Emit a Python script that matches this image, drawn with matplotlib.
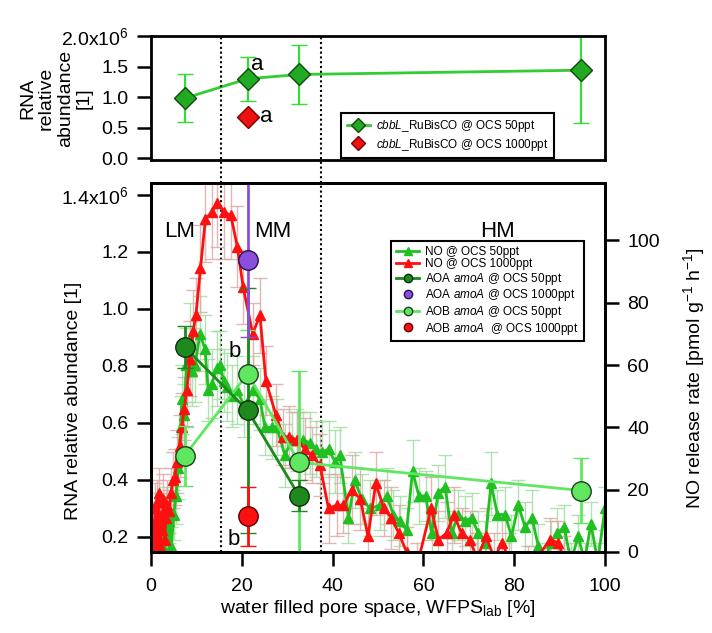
import numpy as np
import matplotlib.pyplot as plt
from matplotlib.lines import Line2D

plt.rcParams['font.family'] = ['Liberation Sans', 'DejaVu Sans']
plt.rcParams['mathtext.fontset'] = 'custom'
plt.rcParams['mathtext.rm'] = 'Liberation Sans'
plt.rcParams['mathtext.it'] = 'Liberation Sans:italic'
plt.rcParams['mathtext.default'] = 'regular'

# ---------------- data (RNA in units of 1e6, NO in pmol g-1 h-1) ----------------
# top panel: cbbL RuBisCO
cbbl_lo_x = [7.4, 21.3, 32.6, 94.7]
cbbl_lo_y = [0.98, 1.30, 1.37, 1.44]
cbbl_lo_err = [0.395, 0.36, 0.48, 0.86]
cbbl_hi_x = [21.3]
cbbl_hi_y = [0.68]

# bottom panel: amoA
aoa_lo_x = [7.4, 21.3, 32.6]
aoa_lo_y = [0.866, 0.643, 0.344]
aoa_lo_err = [0.073, 0.43, 0.055]
aoa_hi_x = [21.3]
aoa_hi_y = [1.172]
aoa_hi_err = [0.27]
aob_lo_x = [7.4, 21.3, 32.6, 94.7]
aob_lo_y = [0.484, 0.772, 0.461, 0.362]
aob_lo_err = [0.105, 0.154, 0.32, 0.113]
aob_hi_x = [21.3]
aob_hi_y = [0.271]
aob_hi_err = [0.105]

# NO release @ OCS 50ppt
no_lo_x = [0.4, 0.8, 1.2, 1.6, 2.0, 2.4, 2.8, 3.2, 3.6, 4.0,
           4.5, 5.0, 5.5, 6.0, 6.5, 6.8, 7.3, 7.8, 8.6, 9.1,
           9.7, 10.8, 11.9, 12.6, 13.4, 14.5, 15.2, 16.0, 16.7, 17.8,
           18.9, 20.5, 22.5, 24.0, 25.1, 26.6, 27.7, 29.5, 31.0, 32.1,
           33.5, 35.0, 36.3, 37.6, 39.1, 40.5, 41.6, 43.5, 44.9, 46.4,
           48.2, 50.4, 51.9, 53.4, 54.8, 56.3, 57.6, 59.0, 60.5, 61.8,
           63.3, 64.8, 66.2, 67.7, 69.2, 70.6, 72.1, 73.6, 74.9, 76.3,
           78.0, 79.4, 80.9, 82.4, 83.9, 85.3, 86.8, 88.0, 89.4, 91.0,
           92.5, 94.1, 95.5, 96.9, 98.4, 100.0]
no_lo_y = [2, 7, 0, 11, 3, 9, 1, 13, 5, 10,
           2, 12, 18, 27, 40, 49, 44, 60, 68, 58,
           60, 70, 65, 52, 54, 59, 60, 55, 53, 50,
           52, 47, 52, 49, 40, 40, 40, 31, 36, 36,
           36, 35, 33, 32, 33, 29, 31, 11, 23, 17,
           14, 15, 18, 12, 10, 7, 26, 18, 18, 6,
           19, 21, 6, 12, 10, 11, 6, 3, 22, 12,
           12, 5, 15, 8, 11, 2, -3, 3, 6, 8,
           -3, 5, -3, 9, -3, 14]
no_lo_err = [6, 7, 5, 8, 6, 7, 5, 8, 6, 7,
             6, 8, 9, 10, 10, 11, 10, 12, 12, 11,
             12, 12, 11, 10, 11, 12, 11, 10, 11, 10,
             11, 10, 11, 10, 9, 10, 9, 10, 9, 10,
             9, 10, 9, 10, 9, 10, 9, 8, 9, 8,
             9, 8, 9, 8, 8, 7, 10, 9, 8, 7,
             9, 10, 7, 8, 8, 8, 7, 7, 10, 8,
             9, 7, 8, 8, 9, 7, 6, 7, 8, 7,
             6, 7, 6, 7, 6, 7]

# NO release @ OCS 1000ppt
no_hi_x = [0.3, 0.5, 0.7, 0.9, 1.1, 1.3, 1.5, 1.7, 1.9, 2.1,
           2.4, 2.7, 3.0, 3.3, 3.6, 4.0, 4.4, 4.8, 5.2, 5.7,
           6.3, 6.8, 7.3, 7.9, 8.6, 9.3, 9.9, 10.9, 12.0, 13.4,
           14.6, 16.1, 17.6, 19.0, 20.3, 22.4, 24.0, 25.3, 27.5, 29.1,
           30.4, 32.1, 33.9, 35.4, 37.2, 39.1, 40.9, 42.4, 44.2, 46.1,
           47.8, 49.5, 51.3, 52.9, 54.6, 56.3, 58.5, 61.7, 63.3, 65.1,
           66.7, 68.4, 70.2, 71.8, 73.8, 75.6, 77.3, 78.8, 83.0, 87.9,
           89.6, 91.0]
no_hi_y = [1, 9, 0, 14, 3, 16, 5, 19, 2, 12,
           7, 17, 4, 11, 15, 13, 19, 23, 24, 29,
           34, 40, 46, 52, 62, 71, 76, 91, 107, 109,
           112, 109, 108, 98, 85, 70, 76, 55, 44, 37,
           37, 36, 33, 31, 28, 14, 15, 15, 20, 17,
           5, 22, 14, 11, 6, 0, -5, 14, 4, 6,
           12, 6, 4, -2, 5, -2, 3, -2, -6, 4,
           3, -2]
no_hi_err = [6, 7, 5, 8, 6, 7, 6, 8, 5, 7,
             6, 8, 6, 7, 8, 7, 8, 9, 9, 10,
             10, 11, 10, 12, 12, 13, 12, 14, 14, 15,
             14, 15, 14, 13, 12, 10, 12, 11, 10, 9,
             10, 9, 10, 9, 10, 11, 10, 9, 11, 10,
             9, 10, 9, 10, 9, 8, 8, 10, 9, 10,
             9, 8, 9, 8, 9, 8, 8, 8, 8, 7,
             7, 7]

zone_bounds = [15.5, 37.5]
zone_names = ['LM', 'MM', 'HM']
zone_label_x = [6.4, 26.8, 76.4]

# ---------------- colours ----------------
C_NO_LO = '#1fc01f'
C_NO_HI = '#ff1010'
C_ERR_LO = '#9edc9e'
C_ERR_HI = '#dca4a4'
C_AOA = '#1e8a1e'
C_AOB = '#5fe85f'
C_PURPLE = '#8a4fdc'

W, H = 712, 633
fig = plt.figure(figsize=(W / 100, H / 100), dpi=100)


def frame(l, t, r, b):
    return [l / W, 1 - b / H, (r - l) / W, (b - t) / H]


ax_top = fig.add_axes(frame(151, 36, 605, 160))
ax_no = fig.add_axes(frame(151, 183, 605, 552))
ax_rna = ax_no.twinx()

for a in (ax_top, ax_no, ax_rna):
    for s in a.spines.values():
        s.set_linewidth(2)
    a.tick_params(direction='out', length=10, width=1.8, labelsize=14, pad=6)
ax_no.tick_params(axis='x', pad=9)

# ---------------- top panel ----------------
ax_top.errorbar(cbbl_lo_x, cbbl_lo_y, yerr=cbbl_lo_err, color='#33cc33', lw=2,
                marker='D', ms=11, mfc='#22aa22', mec='#0d4a0d', mew=1,
                ecolor='#33dd33', elinewidth=1.6, capsize=6, capthick=1.6)
ax_top.plot(cbbl_hi_x, cbbl_hi_y, ls='none', marker='D', ms=11, mfc='#ee1111',
            mec='#7a0000', mew=1)
ax_top.text(23.4, 1.53, 'a', fontsize=16, ha='center', va='center')
ax_top.text(25.3, 0.68, 'a', fontsize=16, ha='center', va='center')
ax_top.set_xlim(0, 100)
ax_top.set_ylim(-0.03, 2.0)
ax_top.set_xticks([])
ax_top.set_yticks([0, 0.5, 1.0, 1.5, 2.0])
ax_top.set_yticklabels(['0.0', '0.5', '1.0', '1.5', '2.0x10$^{6}$'])
ax_top.set_ylabel('RNA\nrelative\nabundance\n[1]', fontsize=14, linespacing=1.15)
ax_top.yaxis.set_label_coords(-0.128, 0.5)

h_top = [Line2D([], [], color='#33cc33', lw=2, marker='D', ms=7, mfc='#22aa22', mec='#0d4a0d'),
         Line2D([], [], ls='none', marker='D', ms=7, mfc='#ee1111', mec='#7a0000')]
leg = ax_top.legend(h_top, ['$\\it{cbbL}$_RuBisCO @ OCS 50ppt',
                            '$\\it{cbbL}$_RuBisCO @ OCS 1000ppt'],
                    loc='upper left', bbox_to_anchor=(0.419, 0.38), fontsize=8.5,
                    frameon=True, fancybox=False, framealpha=1, edgecolor='black',
                    handlelength=2.0, labelspacing=0.2, borderpad=0.45,
                    handletextpad=0.5, borderaxespad=0)
leg.get_frame().set_linewidth(1.5)

# ---------------- bottom panel: NO (right axis) ----------------
ax_no.errorbar(no_lo_x, no_lo_y, yerr=no_lo_err, fmt='none', ecolor=C_ERR_LO,
               elinewidth=1, capsize=5, capthick=1, alpha=0.8)
ax_no.errorbar(no_hi_x, no_hi_y, yerr=no_hi_err, fmt='none', ecolor=C_ERR_HI,
               elinewidth=1, capsize=5, capthick=1, alpha=0.8)
ax_no.plot(no_lo_x, no_lo_y, color=C_NO_LO, lw=2, marker='^', ms=7, mec=C_NO_LO)
ax_no.plot(no_hi_x, no_hi_y, color=C_NO_HI, lw=2, marker='^', ms=7, mec=C_NO_HI)
ax_no.set_xlim(0, 100)
ax_no.set_ylim(0, 118.4)
ax_no.yaxis.tick_right()
ax_no.yaxis.set_label_position('right')
ax_no.set_yticks([0, 20, 40, 60, 80, 100])
ax_no.set_xticks([0, 20, 40, 60, 80, 100])
ax_no.set_ylabel('NO release rate [pmol g$^{-1}$ h$^{-1}$]', fontsize=14)
ax_no.yaxis.set_label_coords(1.168, 0.47)
ax_no.set_xlabel('water filled pore space, WFPS$_{lab}$ [%]', fontsize=14, labelpad=2)

# zone separators spanning both panels
top_frac = (552 - 36) / (552 - 183)
for xb in zone_bounds:
    ax_no.axvline(xb, ymin=0, ymax=top_frac, color='black', lw=1.5,
                  ls=(0, (1, 1.3)), clip_on=False, zorder=1)

# ---------------- bottom panel: amoA (left axis) ----------------
ax_rna.errorbar(aob_lo_x, aob_lo_y, yerr=aob_lo_err, color=C_AOB, lw=2, marker='o',
                ms=14, mfc=C_AOB, mec='#1f3f1f', mew=1, ecolor=C_AOB,
                elinewidth=2, capsize=6, capthick=2)
ax_rna.errorbar(aoa_lo_x, aoa_lo_y, yerr=aoa_lo_err, color=C_AOA, lw=2, marker='o',
                ms=14, mfc=C_AOA, mec='#0c300c', mew=1, ecolor=C_AOA,
                elinewidth=2, capsize=6, capthick=2)
ax_rna.errorbar(aoa_hi_x, aoa_hi_y, yerr=aoa_hi_err, fmt='o', ms=14, mfc=C_PURPLE,
                mec='#2a1050', mew=1, ecolor=C_PURPLE, elinewidth=2, capsize=6, capthick=2)
ax_rna.errorbar(aob_hi_x, aob_hi_y, yerr=aob_hi_err, fmt='o', ms=14, mfc='#ff1010',
                mec='#600000', mew=1, ecolor='#ff1010', elinewidth=2, capsize=6, capthick=2)
ax_rna.set_ylim(0.146, 1.442)
ax_rna.yaxis.tick_left()
ax_rna.yaxis.set_label_position('left')
ax_rna.set_yticks([0.2, 0.4, 0.6, 0.8, 1.0, 1.2, 1.4])
ax_rna.set_yticklabels(['0.2', '0.4', '0.6', '0.8', '1.0', '1.2', '1.4x10$^{6}$'])
ax_rna.set_ylabel('RNA relative abundance [1]', fontsize=14)
ax_rna.yaxis.set_label_coords(-0.152, 0.41)

for name, xl in zip(zone_names, zone_label_x):
    ax_rna.text(xl, 1.27, name, fontsize=16, ha='center', va='center')
ax_rna.text(18.5, 0.85, 'b', fontsize=16, ha='center', va='center')
ax_rna.text(18.3, 0.19, 'b', fontsize=16, ha='center', va='center')

h_bot = [Line2D([], [], color=C_NO_LO, lw=2, marker='^', ms=6, mec=C_NO_LO),
         Line2D([], [], color=C_NO_HI, lw=2, marker='^', ms=6, mec=C_NO_HI),
         Line2D([], [], color=C_AOA, lw=2, marker='o', ms=6, mfc=C_AOA, mec='#0c300c'),
         Line2D([], [], ls='none', marker='o', ms=6, mfc=C_PURPLE, mec='#2a1050'),
         Line2D([], [], color=C_AOB, lw=2, marker='o', ms=6, mfc=C_AOB, mec='#1f3f1f'),
         Line2D([], [], ls='none', marker='o', ms=6, mfc='#ff1010', mec='#600000')]
lab_bot = ['NO @ OCS 50ppt', 'NO @ OCS 1000ppt',
           'AOA $\\it{amoA}$ @ OCS 50ppt', 'AOA $\\it{amoA}$ @ OCS 1000ppt',
           'AOB $\\it{amoA}$ @ OCS 50ppt', 'AOB $\\it{amoA}$  @ OCS 1000ppt']
leg2 = ax_rna.legend(h_bot, lab_bot, loc='upper left', bbox_to_anchor=(0.529, 0.843),
                     fontsize=8.5, frameon=True, fancybox=False, framealpha=1,
                     edgecolor='black', handlelength=2.0, labelspacing=0.05,
                     borderpad=0.4, handletextpad=0.5, borderaxespad=0)
leg2.get_frame().set_linewidth(1.5)

fig.savefig('out.png', dpi=100)
